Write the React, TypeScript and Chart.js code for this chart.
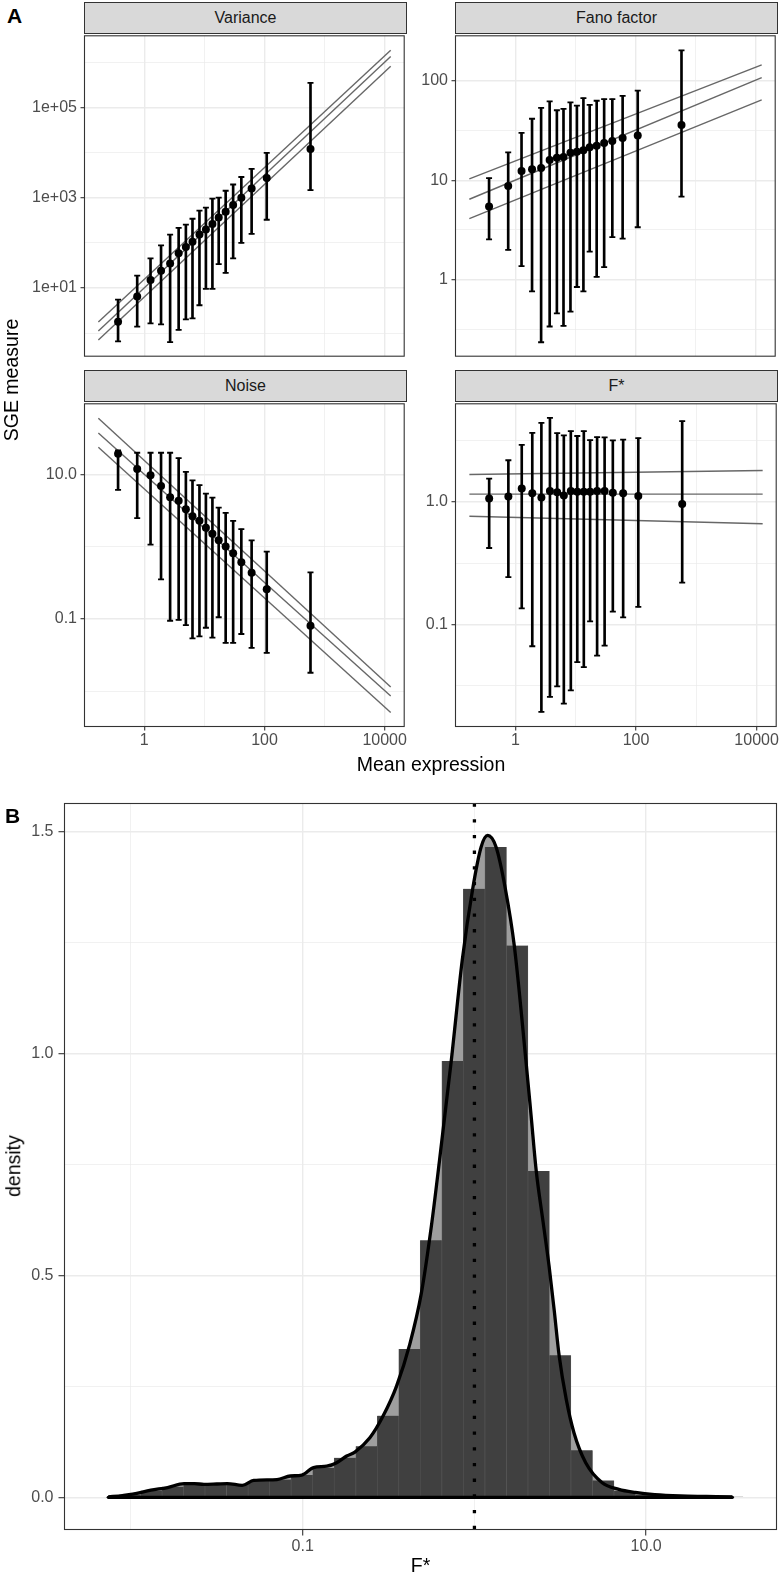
import React, { useEffect, useRef } from "react";
import { Chart, registerables } from "chart.js";

Chart.register(...registerables);

const FONT = '"Liberation Sans", Arial, Helvetica, sans-serif';
Chart.defaults.font.family = FONT;

// ---------------- Panel A data (binned genes) ----------------
const meanExpression = [0.366, 0.762, 1.27, 1.9, 2.69, 3.73, 4.92, 6.34, 8.28, 10.6, 13.6, 17.3, 22.6, 30.1, 41.2, 61.1, 109, 583];

const varianceValue = [1.8, 6.5, 15.1, 24.1, 35.0, 58.7, 80.7, 106, 152, 196, 261, 364, 485, 689, 995, 1600, 2720, 11900];
const varianceLow = [0.66, 1.4, 1.65, 1.57, 0.63, 1.18, 2.02, 2.13, 4.15, 9.6, 9.6, 33.7, 21.5, 45, 100, 158, 324, 1470];
const varianceHigh = [5.5, 18.7, 45, 88, 152, 213, 252, 341, 518, 601, 946, 995, 1420, 1950, 2860, 4350, 9750, 346000];

const fanoValue = [5.43, 8.77, 12.4, 12.9, 13.3, 16.0, 16.8, 17.1, 18.9, 19.4, 20.0, 21.5, 22.3, 23.7, 24.8, 26.6, 28.2, 36.0];
const fanoLow = [2.54, 1.99, 1.36, 0.76, 0.233, 0.336, 0.456, 0.341, 0.474, 0.84, 0.76, 1.91, 1.06, 1.33, 2.67, 2.58, 3.36, 6.83];
const fanoHigh = [10.5, 19.1, 30.0, 41.6, 53.5, 62.2, 50.7, 52.3, 60.8, 56.5, 67.3, 57.3, 63.2, 65.6, 65.6, 70.9, 80.1, 203];

const noiseValue = [19.4, 11.9, 9.8, 6.93, 4.83, 4.35, 3.31, 2.65, 2.29, 1.84, 1.52, 1.23, 1.01, 0.815, 0.612, 0.437, 0.258, 0.081];
const noiseLow = [6.11, 2.49, 1.07, 0.354, 0.0948, 0.0977, 0.0826, 0.0542, 0.0577, 0.0759, 0.0553, 0.106, 0.0468, 0.0468, 0.0622, 0.04, 0.0341, 0.0181];
const noiseHigh = [21.6, 20.0, 20.0, 20.0, 20.0, 16.9, 10.9, 8.28, 7.15, 5.43, 4.79, 3.49, 2.95, 2.29, 1.76, 1.23, 0.859, 0.443];

const fstarValue = [1.06, 1.1, 1.28, 1.17, 1.08, 1.22, 1.19, 1.12, 1.22, 1.2, 1.2, 1.2, 1.22, 1.22, 1.18, 1.17, 1.11, 0.957];
const fstarLow = [0.419, 0.243, 0.135, 0.0664, 0.0194, 0.0257, 0.0313, 0.0227, 0.0291, 0.0493, 0.0449, 0.106, 0.0558, 0.0673, 0.127, 0.114, 0.139, 0.219];
const fstarHigh = [1.54, 2.17, 2.9, 3.63, 4.38, 4.81, 3.61, 3.46, 3.75, 3.42, 3.75, 3.17, 3.35, 3.33, 3.15, 3.19, 3.29, 4.52];

// fitted trend lines (end points)
const fitX = [0.172, 12600];
const varianceFitUpper = [1.77, 1830000];
const varianceFitMid = [1.11, 1330000];
const varianceFitLower = [0.705, 810000];
const fanoFitUpper = [10.3, 145];
const fanoFitMid = [6.43, 108];
const fanoFitLower = [4.1, 64.4];
const noiseFitUpper = [59.9, 0.0115];
const noiseFitMid = [37.4, 0.0086];
const noiseFitLower = [23.8, 0.0051];
const fstarFitUpper = [1.66, 1.79];
const fstarFitMid = [1.15, 1.15];
const fstarFitLower = [0.76, 0.66];

// ---------------- Panel B data (F* distribution) ----------------
const binCenterLog10 = [-2.132, -2.007, -1.881, -1.756, -1.631, -1.506, -1.38, -1.255, -1.13, -1.004, -0.879, -0.754, -0.628, -0.503, -0.378, -0.253, -0.127, -0.002, 0.124, 0.249, 0.374, 0.499, 0.625, 0.75, 0.875, 1.001, 1.126, 1.251, 1.377, 1.502];
const binDensity = [0.002, 0.006, 0.015, 0.024, 0.03, 0.03, 0.029, 0.037, 0.04, 0.05, 0.066, 0.089, 0.115, 0.184, 0.334, 0.579, 0.983, 1.371, 1.465, 1.243, 0.735, 0.32, 0.106, 0.038, 0.014, 0.006, 0.003, 0.002, 0.001, 0.001];

const densityLog10 = [-2.132, -2.05, -1.99, -1.884, -1.787, -1.691, -1.63, -1.575, -1.5, -1.439, -1.352, -1.285, -1.15, -1.072, -1.005, -0.937, -0.86, -0.802, -0.744, -0.696, -0.609, -0.532, -0.454, -0.377, -0.309, -0.251, -0.203, -0.135, -0.071, -0.01, 0.039, 0.077, 0.126, 0.18, 0.232, 0.3, 0.33, 0.36, 0.4, 0.435, 0.465, 0.493, 0.535, 0.58, 0.648, 0.744, 0.841, 0.937, 1.05, 1.2, 1.35, 1.502];
const densityValue = [0.001, 0.004, 0.007, 0.016, 0.022, 0.031, 0.031, 0.029, 0.03, 0.031, 0.027, 0.038, 0.04, 0.048, 0.05, 0.067, 0.07, 0.078, 0.093, 0.102, 0.134, 0.183, 0.25, 0.344, 0.46, 0.61, 0.76, 0.983, 1.21, 1.371, 1.465, 1.491, 1.465, 1.371, 1.243, 0.983, 0.86, 0.735, 0.62, 0.52, 0.42, 0.32, 0.22, 0.145, 0.078, 0.033, 0.018, 0.011, 0.006, 0.003, 0.002, 0.001];
const fstarReference = 1;

// ---------------- Tick labels ----------------
const xMajorA = [1, 100, 10000];
const xLabelsA = ["1", "100", "10000"];
const xMinorA = [10, 1000];
const varianceMajor = [10, 1000, 100000];
const varianceLabels = ["1e+01", "1e+03", "1e+05"];
const varianceMinor = [1, 100, 10000, 1000000];
const fanoMajor = [1, 10, 100];
const fanoLabels = ["1", "10", "100"];
const fanoMinor = [0.3162, 3.162, 31.62];
const noiseMajor = [0.1, 10];
const noiseLabels = ["0.1", "10.0"];
const noiseMinor = [0.01, 1];
const fstarMajor = [0.1, 1];
const fstarLabels = ["0.1", "1.0"];
const fstarMinor = [0.03162, 0.3162, 3.162];
const xMajorB = [0.1, 10];
const xLabelsB = ["0.1", "10.0"];
const xMinorB = [0.01, 1];
const yMajorB = [0, 0.5, 1, 1.5];
const yLabelsB = ["0.0", "0.5", "1.0", "1.5"];
const yMinorB = [0.25, 0.75, 1.25];

// ---------------- helpers ----------------
type AxisSpec = {
  type: "logarithmic" | "linear";
  min: number;
  max: number;
  major: number[];
  labels: string[];
  minor: number[];
  showLabels: boolean;
  drawTicks: boolean;
  size: number;
  tickLen: number;
  pad: number;
};

const near = (a: number, b: number) => Math.abs(a - b) <= Math.abs(a) * 1e-6 + 1e-9;

function makeAxis(spec: AxisSpec, isX: boolean) {
  const isMajor = (v: number) => spec.major.some((m) => near(m, v));
  const labelFor = (v: number) => {
    const i = spec.major.findIndex((m) => near(m, v));
    return i >= 0 ? spec.labels[i] : "";
  };
  return {
    type: spec.type,
    min: spec.min,
    max: spec.max,
    bounds: "data",
    offset: false,
    beginAtZero: false,
    afterBuildTicks: (axis: any) => {
      axis.ticks = [...spec.major, ...spec.minor]
        .filter((v) => v >= spec.min && v <= spec.max)
        .sort((a, b) => a - b)
        .map((v) => ({ value: v, major: false }));
    },
    afterFit: (axis: any) => {
      if (isX) axis.height = spec.size;
      else axis.width = spec.size;
      axis.paddingLeft = 0;
      axis.paddingRight = 0;
      axis.paddingTop = 0;
      axis.paddingBottom = 0;
    },
    grid: {
      display: true,
      drawOnChartArea: true,
      offset: false,
      color: "#ebebeb",
      lineWidth: (c: any) => (c.tick && isMajor(c.tick.value) ? 1.4 : 0.7),
      drawTicks: spec.drawTicks,
      tickLength: spec.tickLen,
      tickWidth: 1.1,
      tickColor: (c: any) => (c.tick && isMajor(c.tick.value) ? "#333333" : "rgba(0,0,0,0)"),
    },
    border: { display: false },
    ticks: {
      display: spec.showLabels,
      autoSkip: false,
      maxRotation: 0,
      minRotation: 0,
      padding: spec.pad,
      color: "#4d4d4d",
      font: { family: FONT, size: 16 },
      callback: (v: any) => labelFor(Number(v)),
    },
  };
}

const panelBorder = {
  id: "panelBorder",
  afterDatasetsDraw(chart: any) {
    const { ctx, chartArea: a } = chart;
    ctx.save();
    ctx.strokeStyle = "#333333";
    ctx.lineWidth = 1.1;
    ctx.strokeRect(a.left, a.top, a.right - a.left, a.bottom - a.top);
    ctx.restore();
  },
};

type Box = { cl: number; ct: number; cr: number; cb: number; l: number; t: number; r: number; b: number };

function ChartBox({ box, makeConfig }: { box: Box; makeConfig: () => any }) {
  const ref = useRef<HTMLCanvasElement | null>(null);
  useEffect(() => {
    const chart = new Chart(ref.current as HTMLCanvasElement, makeConfig());
    return () => chart.destroy();
  }, []);
  const w = box.cr - box.cl;
  const h = box.cb - box.ct;
  return (
    <canvas
      ref={ref}
      width={w}
      height={h}
      style={{ position: "absolute", left: box.cl, top: box.ct, width: w, height: h }}
    />
  );
}

type Facet = {
  box: Box;
  y: number[];
  lo: number[];
  hi: number[];
  fits: number[][];
  yLog: [number, number];
  yMajor: number[];
  yLabels: string[];
  yMinor: number[];
  showX: boolean;
};

const X_LOG_A: [number, number] = [-0.995, 4.325];

function facetConfig(f: Facet) {
  const { box } = f;
  const xAxis = makeAxis(
    {
      type: "logarithmic",
      min: Math.pow(10, X_LOG_A[0]),
      max: Math.pow(10, X_LOG_A[1]),
      major: xMajorA,
      labels: xLabelsA,
      minor: xMinorA,
      showLabels: f.showX,
      drawTicks: f.showX,
      size: box.cb - box.b,
      tickLen: 4,
      pad: 0,
    },
    true
  );
  const yAxis = makeAxis(
    {
      type: "logarithmic",
      min: Math.pow(10, f.yLog[0]),
      max: Math.pow(10, f.yLog[1]),
      major: f.yMajor,
      labels: f.yLabels,
      minor: f.yMinor,
      showLabels: true,
      drawTicks: true,
      size: box.l - box.cl,
      tickLen: 4,
      pad: 3.5,
    },
    false
  );
  const caps: { x: number; y: number }[] = [];
  meanExpression.forEach((x, i) => {
    caps.push({ x, y: f.lo[i] });
    caps.push({ x, y: f.hi[i] });
  });
  return {
    type: "bar",
    data: {
      datasets: [
        {
          type: "scatter",
          data: meanExpression.map((x, i) => ({ x, y: f.y[i] })),
          pointRadius: 4,
          pointBackgroundColor: "#000000",
          pointBorderColor: "#000000",
          pointBorderWidth: 0,
          order: 0,
        },
        {
          type: "bar",
          data: meanExpression.map((x, i) => ({ x, y: [f.lo[i], f.hi[i]] })),
          backgroundColor: "#000000",
          barThickness: 2,
          grouped: false,
          order: 1,
        },
        {
          type: "scatter",
          data: caps,
          pointStyle: "line",
          pointRadius: 3,
          pointBorderColor: "#000000",
          pointBorderWidth: 1.8,
          order: 1,
        },
        ...f.fits.map((fit) => ({
          type: "line",
          data: fitX.map((x, i) => ({ x, y: fit[i] })),
          borderColor: "#676767",
          borderWidth: 1.4,
          pointRadius: 0,
          clip: 0,
          order: 2,
        })),
      ],
    },
    options: {
      responsive: false,
      animation: false,
      devicePixelRatio: 1,
      events: [],
      layout: { padding: { left: 0, bottom: 0, top: box.t - box.ct, right: box.cr - box.r } },
      plugins: { legend: { display: false }, tooltip: { enabled: false } },
      scales: { x: xAxis, y: yAxis },
    },
    plugins: [panelBorder],
  };
}

const boxVariance: Box = { cl: 20, ct: 30, cr: 410, cb: 362, l: 84.5, t: 33.5, r: 406.5, b: 358.5 };
const boxFano: Box = { cl: 391, ct: 30, cr: 781, cb: 362, l: 455.5, t: 33.5, r: 777.5, b: 358.5 };
const boxNoise: Box = { cl: 20, ct: 398, cr: 410, cb: 756, l: 84.5, t: 401.5, r: 406.5, b: 726.5 };
const boxFstar: Box = { cl: 391, ct: 398, cr: 782, cb: 756, l: 455.5, t: 401.5, r: 777.5, b: 726.5 };
const boxB: Box = { cl: 0, ct: 800, cr: 780, cb: 1560, l: 64.5, t: 803.5, r: 776.5, b: 1529.5 };

const facets: Facet[] = [
  {
    box: boxVariance,
    y: varianceValue,
    lo: varianceLow,
    hi: varianceHigh,
    fits: [varianceFitUpper, varianceFitMid, varianceFitLower],
    yLog: [-0.51, 6.582],
    yMajor: varianceMajor,
    yLabels: varianceLabels,
    yMinor: varianceMinor,
    showX: false,
  },
  {
    box: boxFano,
    y: fanoValue,
    lo: fanoLow,
    hi: fanoHigh,
    fits: [fanoFitUpper, fanoFitMid, fanoFitLower],
    yLog: [-0.773, 2.455],
    yMajor: fanoMajor,
    yLabels: fanoLabels,
    yMinor: fanoMinor,
    showX: false,
  },
  {
    box: boxNoise,
    y: noiseValue,
    lo: noiseLow,
    hi: noiseHigh,
    fits: [noiseFitUpper, noiseFitMid, noiseFitLower],
    yLog: [-2.486, 1.978],
    yMajor: noiseMajor,
    yLabels: noiseLabels,
    yMinor: noiseMinor,
    showX: true,
  },
  {
    box: boxFstar,
    y: fstarValue,
    lo: fstarLow,
    hi: fstarHigh,
    fits: [fstarFitUpper, fstarFitMid, fstarFitLower],
    yLog: [-1.831, 0.796],
    yMajor: fstarMajor,
    yLabels: fstarLabels,
    yMinor: fstarMinor,
    showX: true,
  },
];

const X_LOG_B: [number, number] = [-2.387, 1.759];
const Y_LIM_B: [number, number] = [-0.0725, 1.563];

function histConfig() {
  const box = boxB;
  const xAxis = makeAxis(
    {
      type: "logarithmic",
      min: Math.pow(10, X_LOG_B[0]),
      max: Math.pow(10, X_LOG_B[1]),
      major: xMajorB,
      labels: xLabelsB,
      minor: xMinorB,
      showLabels: true,
      drawTicks: true,
      size: box.cb - box.b,
      tickLen: 6,
      pad: 1,
    },
    true
  );
  const yAxis = makeAxis(
    {
      type: "linear",
      min: Y_LIM_B[0],
      max: Y_LIM_B[1],
      major: yMajorB,
      labels: yLabelsB,
      minor: yMinorB,
      showLabels: true,
      drawTicks: true,
      size: box.l - box.cl,
      tickLen: 6,
      pad: 5,
    },
    false
  );
  const last = densityLog10.length - 1;
  return {
    type: "bar",
    data: {
      datasets: [
        {
          type: "line",
          data: [
            { x: fstarReference, y: Y_LIM_B[1] },
            { x: fstarReference, y: Y_LIM_B[0] },
          ],
          borderColor: "#000000",
          borderWidth: 3.3,
          borderDash: [3.3, 12.4],
          pointRadius: 0,
          fill: false,
          order: -1,
        },
        {
          type: "line",
          data: densityLog10.map((v, i) => ({ x: Math.pow(10, v), y: densityValue[i] })),
          borderColor: "#000000",
          borderWidth: 3.3,
          backgroundColor: "#9e9e9e",
          fill: "origin",
          pointRadius: 0,
          cubicInterpolationMode: "monotone",
          order: 0,
        },
        {
          type: "line",
          data: [
            { x: Math.pow(10, densityLog10[0]), y: 0 },
            { x: Math.pow(10, densityLog10[last]), y: 0 },
          ],
          borderColor: "#000000",
          borderWidth: 3.3,
          borderCapStyle: "round",
          pointRadius: 0,
          fill: false,
          order: 0,
        },
        {
          type: "bar",
          data: binCenterLog10.map((v, i) => ({ x: Math.pow(10, v), y: binDensity[i] })),
          backgroundColor: "#404040",
          borderColor: "#555555",
          borderWidth: { left: 0.6, right: 0.6, top: 0, bottom: 0 },
          barPercentage: 1,
          categoryPercentage: 1,
          grouped: false,
          order: 1,
        },
      ],
    },
    options: {
      responsive: false,
      animation: false,
      devicePixelRatio: 1,
      events: [],
      layout: { padding: { left: 0, bottom: 0, top: box.t - box.ct, right: box.cr - box.r } },
      plugins: {
        legend: { display: false },
        tooltip: { enabled: false },
        filler: { drawTime: "beforeDatasetsDraw", propagate: false },
      },
      scales: { x: xAxis, y: yAxis },
    },
    plugins: [panelBorder],
  };
}

const stripStyle = (left: number, top: number): React.CSSProperties => ({
  position: "absolute",
  left,
  top,
  width: 323,
  height: 32,
  boxSizing: "border-box",
  border: "1px solid #333333",
  background: "#d9d9d9",
  color: "#1a1a1a",
  fontFamily: FONT,
  fontSize: 16,
  lineHeight: "30px",
  textAlign: "center",
});

const titleStyle = (cx: number, cy: number, rotate = false): React.CSSProperties => ({
  position: "absolute",
  left: cx,
  top: cy,
  transform: `translate(-50%, -50%)${rotate ? " rotate(-90deg)" : ""}`,
  whiteSpace: "nowrap",
  fontFamily: FONT,
  fontSize: 19.5,
  lineHeight: 1,
  color: "#000000",
});

const tagStyle = (left: number, top: number): React.CSSProperties => ({
  position: "absolute",
  left,
  top,
  fontFamily: FONT,
  fontSize: 21,
  fontWeight: "bold",
  lineHeight: 1,
  color: "#000000",
});

export default function App() {
  return (
    <div
      style={{
        position: "absolute",
        left: 0,
        top: 0,
        width: 782,
        height: 1579,
        overflow: "hidden",
        background: "#ffffff",
      }}
    >
      <div style={tagStyle(7, 5)}>A</div>
      <div style={stripStyle(84, 2)}>Variance</div>
      <div style={stripStyle(455, 2)}>Fano factor</div>
      <div style={stripStyle(84, 370)}>Noise</div>
      <div style={stripStyle(455, 370)}>F*</div>
      {facets.map((f, i) => (
        <ChartBox key={i} box={f.box} makeConfig={() => facetConfig(f)} />
      ))}
      <div style={titleStyle(12, 380, true)}>SGE measure</div>
      <div style={titleStyle(431, 765)}>Mean expression</div>

      <div style={tagStyle(5, 805)}>B</div>
      <ChartBox box={boxB} makeConfig={histConfig} />
      <div style={titleStyle(13.5, 1166, true)}>density</div>
      <div style={titleStyle(420.5, 1566)}>F*</div>
    </div>
  );
}
